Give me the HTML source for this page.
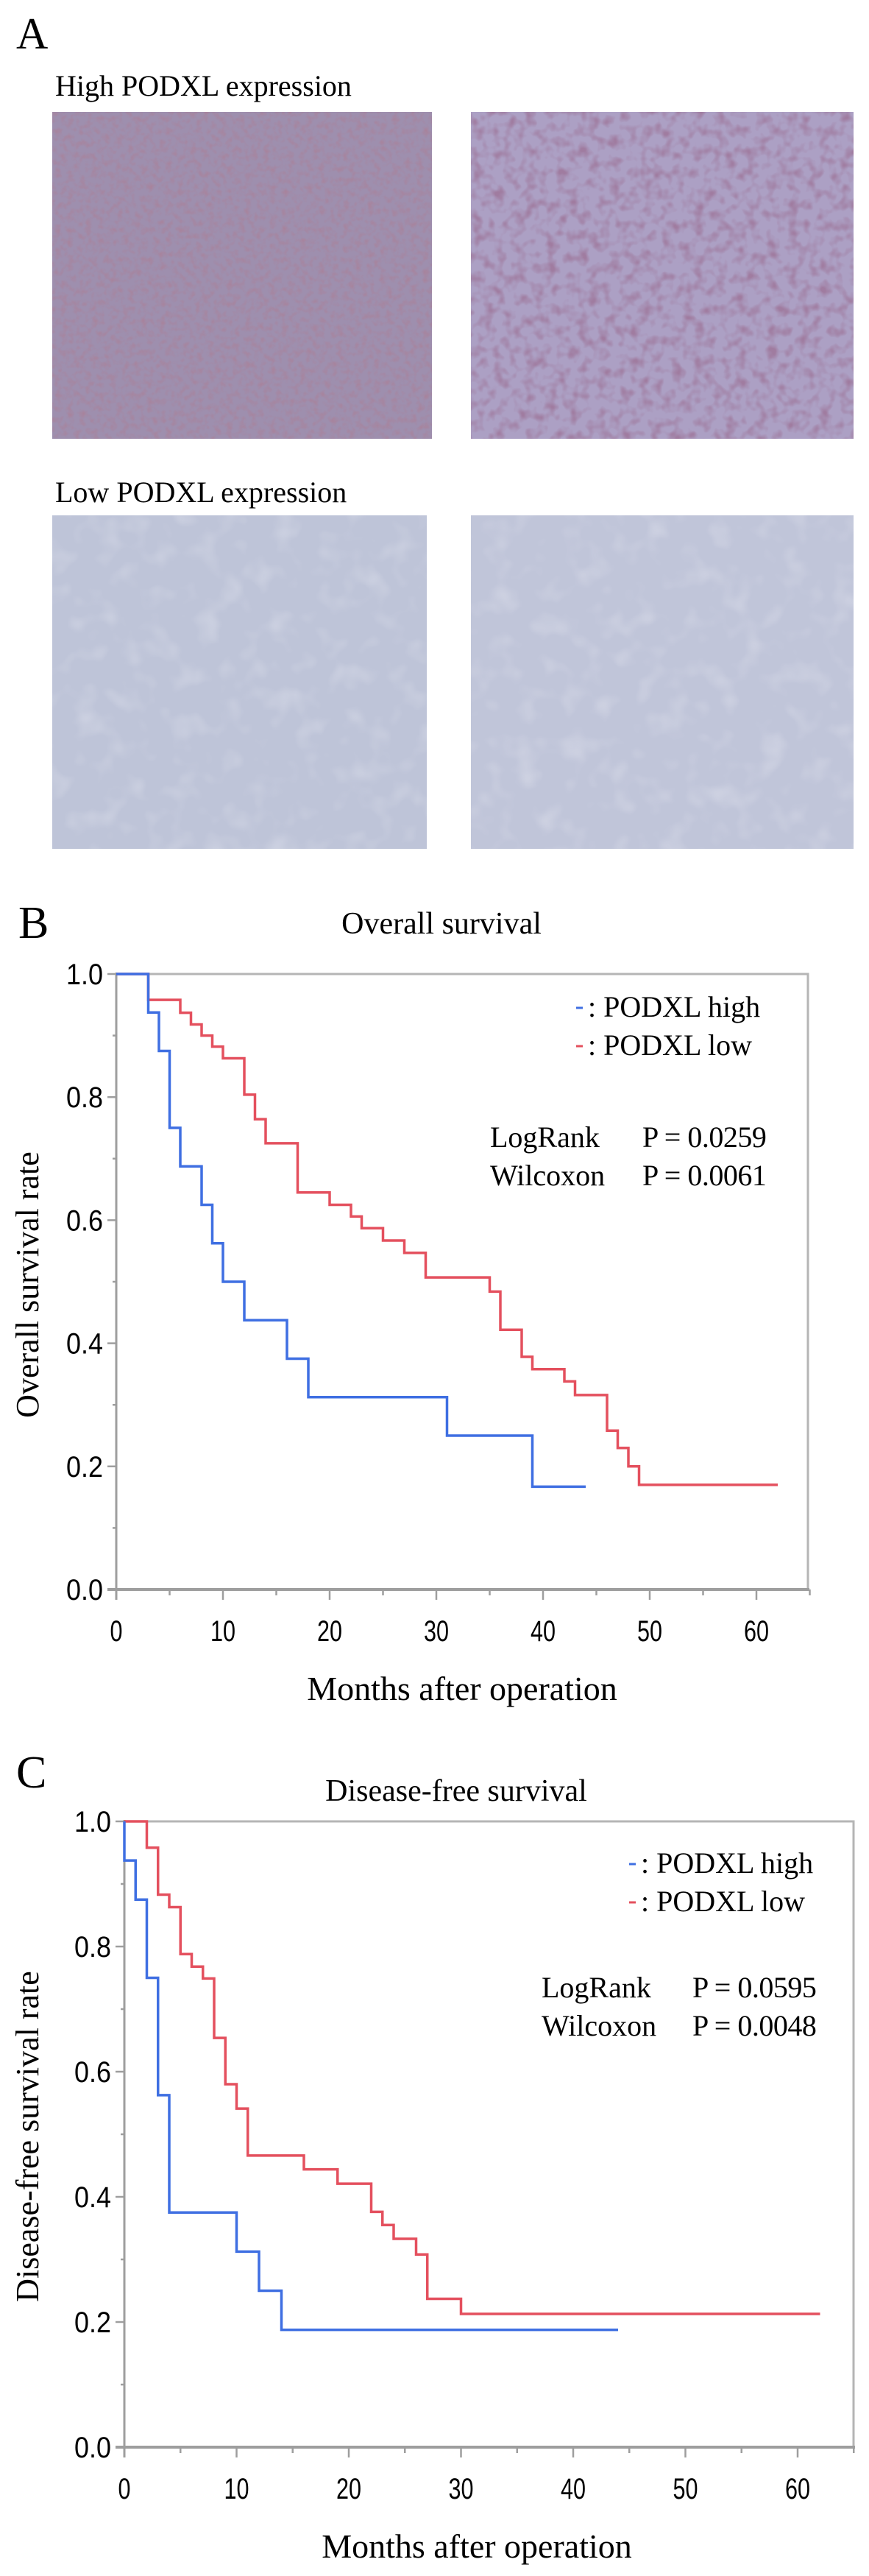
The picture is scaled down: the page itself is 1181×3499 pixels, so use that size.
<!DOCTYPE html>
<html><head><meta charset="utf-8">
<style>
html,body{margin:0;padding:0;background:#fff;}
body{width:1181px;height:3499px;overflow:hidden;position:relative;font-family:"Liberation Serif",serif;}
svg{position:absolute;left:0;top:0;}
</style></head>
<body>
<svg id="fig" width="1181" height="3499" viewBox="0 0 1181 3499" xmlns="http://www.w3.org/2000/svg">
<defs>
<filter id="tex1" x="0" y="0" width="100%" height="100%"><feTurbulence type="fractalNoise" baseFrequency="0.12" numOctaves="2" seed="3"/><feColorMatrix type="matrix" values="0 0 0 0 0.4  0 0 0 0 0.22  0 0 0 0 0.32  0 0 0 -2.2 1.25"/></filter>
<filter id="tex2" x="0" y="0" width="100%" height="100%"><feTurbulence type="fractalNoise" baseFrequency="0.07" numOctaves="2" seed="7"/><feColorMatrix type="matrix" values="0 0 0 0 0.35  0 0 0 0 0.2  0 0 0 0 0.35  0 0 0 -2.5 1.4"/></filter>
<filter id="tex3" x="0" y="0" width="100%" height="100%"><feTurbulence type="fractalNoise" baseFrequency="0.03" numOctaves="2" seed="11"/><feColorMatrix type="matrix" values="0 0 0 0 0.95  0 0 0 0 0.95  0 0 0 0 0.98  0 0 0 -2 1.0"/></filter>
</defs>
<g>
<text x="22" y="66" font-size="60">A</text>
<text x="75" y="130" font-size="40">High PODXL  expression</text>
<rect x="71" y="152" width="516" height="444" fill="#9e8fae"/>
<rect x="71" y="152" width="516" height="444" filter="url(#tex1)" opacity="0.8"/>
<rect x="640" y="152" width="520" height="444" fill="#aca0c4"/>
<rect x="640" y="152" width="520" height="444" filter="url(#tex2)"/>
<text x="75" y="682" font-size="40">Low  PODXL  expression</text>
<rect x="71" y="700" width="509" height="453" fill="#bec4d8"/>
<rect x="71" y="700" width="509" height="453" filter="url(#tex3)" opacity="0.3"/>
<rect x="640" y="700" width="520" height="453" fill="#c0c5d9"/>
<rect x="640" y="700" width="520" height="453" filter="url(#tex3)" opacity="0.3"/>
</g>
<g id="chartB"></g>
<g id="chartC"></g>
</svg>
<script>
// Chart B: Overall survival
const bHighTimes = [3, 4, 5, 6, 8, 9, 10, 12, 16, 18, 31, 39];
const bHighSurv  = [0.9375, 0.875, 0.75, 0.6875, 0.625, 0.5625, 0.5, 0.4375, 0.375, 0.3125, 0.25, 0.167];
const bHighEnd = 44;
const bLowTimes = [3, 6, 7, 8, 9, 10, 12, 13, 14, 17, 20, 22, 23, 25, 27, 29, 35, 36, 38, 39, 42, 43, 46, 47, 48, 49];
const bLowSurv  = [0.958, 0.937, 0.918, 0.9, 0.882, 0.863, 0.804, 0.764, 0.725, 0.645, 0.625, 0.606, 0.587, 0.567, 0.547, 0.507, 0.484, 0.422, 0.378, 0.358, 0.338, 0.316, 0.258, 0.23, 0.2, 0.17];
const bLowEnd = 62;
const bStatNames = ["LogRank", "Wilcoxon"];
const bStatValues = ["P = 0.0259", "P = 0.0061"];
// Chart C: Disease-free survival
const cHighTimes = [0, 1, 2, 3, 4, 10, 12, 14];
const cHighSurv  = [0.9375, 0.875, 0.75, 0.5625, 0.375, 0.3125, 0.25, 0.1875];
const cHighEnd = 44;
const cLowTimes = [2, 3, 4, 5, 6, 7, 8, 9, 10, 11, 16, 19, 22, 23, 24, 26, 27, 30];
const cLowSurv  = [0.958, 0.883, 0.863, 0.788, 0.768, 0.749, 0.654, 0.58, 0.541, 0.466, 0.444, 0.421, 0.376, 0.355, 0.333, 0.308, 0.237, 0.213];
const cLowEnd = 62;
const cStatNames = ["LogRank", "Wilcoxon"];
const cStatValues = ["P = 0.0595", "P = 0.0048"];
const xTickLabels = ["0", "10", "20", "30", "40", "50", "60"];
const yTickLabels = ["0.0", "0.2", "0.4", "0.6", "0.8", "1.0"];

const NS = "http://www.w3.org/2000/svg";
function mk(parent, tag, attrs, txt){
  const e = document.createElementNS(NS, tag);
  for (const k in attrs) e.setAttribute(k, attrs[k]);
  if (txt !== undefined) e.textContent = txt;
  parent.appendChild(e);
  return e;
}
function drawChart(g, cfg){
  const xS = m => cfg.x0 + (m / 60) * (cfg.x60 - cfg.x0);
  const yS = v => cfg.y0 - v * (cfg.y0 - cfg.y1);
  const gray = "#9e9e9e";
  let t = mk(g, "text", {x: cfg.labelX, y: cfg.labelY, "font-size": 62});
  t.textContent = cfg.letter;
  
  
  t = mk(g, "text", {x: cfg.titleX, y: cfg.titleY, "font-size": 42, "text-anchor": "middle"}, cfg.title);
  
  
  let f = mk(g, "path", {d: `M${cfg.x0},${cfg.y1} H${cfg.xr} V${cfg.y0}`, fill: "none", stroke: "#b5b5b5", "stroke-width": 3});
  
  
  let ax = mk(g, "line", {x1: cfg.x0, y1: cfg.y1 - 2, x2: cfg.x0, y2: cfg.y0 + 14, stroke: gray, "stroke-width": 3});
  
  
  ax = mk(g, "line", {x1: cfg.x0 - 12, y1: cfg.y0, x2: cfg.xr + 2, y2: cfg.y0, stroke: gray, "stroke-width": 4});
  
  
  for (let i = 0; i <= 10; i++) {
    const y = yS(i / 10);
    const tk = mk(g, "line", {x1: cfg.x0 - (i % 2 ? 5 : 12), y1: y, x2: cfg.x0, y2: y, stroke: gray, "stroke-width": 2.5});
    
    
  }
  yTickLabels.forEach((lab, i) => {
    const tl = mk(g, "text", {x: cfg.x0 - 18, y: yS(i * 0.2) + 14, "font-size": 40, "text-anchor": "end", "font-family": "Liberation Sans, sans-serif", textLength: 50, lengthAdjust: "spacingAndGlyphs"}, lab);
    
    
  });
  for (let m = 0; m <= 65; m += 5) {
    const x = xS(m);
    if (x > cfg.xr + 3) break;
    const tk = mk(g, "line", {x1: x, y1: cfg.y0, x2: x, y2: cfg.y0 + (m % 10 ? 8 : 14), stroke: gray, "stroke-width": 2.5});
    
    
  }
  xTickLabels.forEach((lab, i) => {
    const tl = mk(g, "text", {x: xS(i * 10), y: cfg.y0 + 70, "font-size": 40, "text-anchor": "middle", "font-family": "Liberation Sans, sans-serif", textLength: lab.length * 17, lengthAdjust: "spacingAndGlyphs"}, lab);
    
    
  });
  t = mk(g, "text", {x: cfg.xTitleX, y: cfg.y0 + 150, "font-size": 46, "text-anchor": "middle"}, "Months after operation");
  
  
  t = mk(g, "text", {x: 0, y: 0, "font-size": 44, "text-anchor": "middle", transform: `translate(${cfg.yTitleX},${cfg.yTitleY}) rotate(-90)`, "xml:space": "preserve"}, cfg.yTitle);
  
  
  function curve(times, surv, end, color, name){
    let d = `M${xS(0)},${yS(1)}`;
    times.forEach((tm, i) => { d += ` H${xS(tm)} V${yS(surv[i])}`; });
    d += ` H${xS(end)}`;
    const p = mk(g, "path", {d: d, fill: "none", stroke: color, "stroke-width": 3.5, "stroke-linejoin": "miter"});
    
    
  }
  curve(cfg.lowT, cfg.lowS, cfg.lowE, "#e4505e", "podxl-low-curve");
  curve(cfg.highT, cfg.highS, cfg.highE, "#3f6fe2", "podxl-high-curve");
  [["#3f6fe2", "PODXL high", cfg.legY], ["#e4505e", "PODXL low", cfg.legY + 52]].forEach(([c, lab, y]) => {
    const lg = mk(g, "g", {});
    
    
    mk(lg, "line", {x1: cfg.legX, y1: y - 12, x2: cfg.legX + 9, y2: y - 12, stroke: c, "stroke-width": 3});
    mk(lg, "text", {x: cfg.legX + 16, y: y, "font-size": 40, "xml:space": "preserve"}, ": " + lab);
  });
  cfg.statNames.forEach((s, i) => {
    const st = mk(g, "text", {x: cfg.statX, y: cfg.statY + i * 52, "font-size": 40}, s);
    
    
    const sv = mk(g, "text", {x: cfg.statPX, y: cfg.statY + i * 52, "font-size": 40, "letter-spacing": "-0.5"}, cfg.statValues[i]);
    
    
  });
}
drawChart(document.getElementById("chartB"), {
  letter: "B", labelX: 25, labelY: 1274, title: "Overall  survival", titleX: 600, titleY: 1268,
  x0: 158, x60: 1028, xr: 1098, y0: 2159, y1: 1323,
  xTitleX: 628, yTitle: "Overall  survival rate", yTitleX: 52, yTitleY: 1745,
  highT: bHighTimes, highS: bHighSurv, highE: bHighEnd,
  lowT: bLowTimes, lowS: bLowSurv, lowE: bLowEnd,
  legX: 783, legY: 1381, statNames: bStatNames, statValues: bStatValues, statX: 666, statPX: 873, statY: 1558
});
drawChart(document.getElementById("chartC"), {
  letter: "C", labelX: 22, labelY: 2428, title: "Disease-free  survival", titleX: 620, titleY: 2446,
  x0: 169, x60: 1084, xr: 1160, y0: 3324, y1: 2474,
  xTitleX: 648, yTitle: "Disease-free  survival rate", yTitleX: 52, yTitleY: 2902,
  highT: cHighTimes, highS: cHighSurv, highE: cHighEnd,
  lowT: cLowTimes, lowS: cLowSurv, lowE: cLowEnd,
  legX: 855, legY: 2544, statNames: cStatNames, statValues: cStatValues, statX: 736, statPX: 941, statY: 2713
});
</script>
</body></html>
